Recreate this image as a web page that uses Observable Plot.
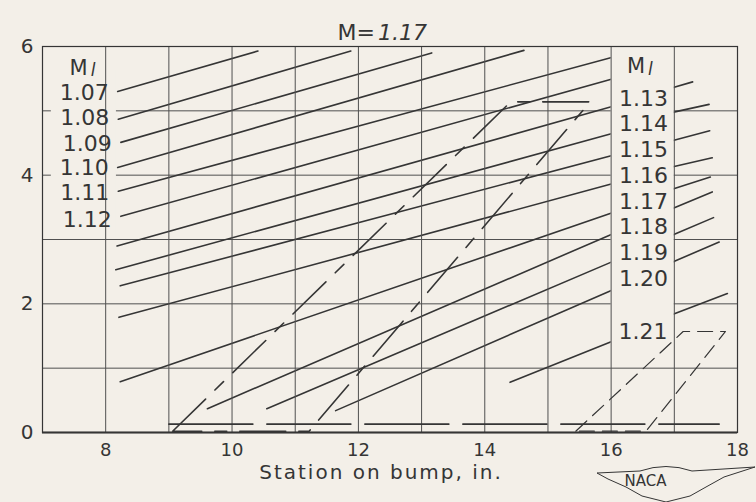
<!DOCTYPE html>
<html>
<head>
<meta charset="utf-8">
<script src="https://cdn.jsdelivr.net/npm/d3@7"></script>
<script src="https://cdn.jsdelivr.net/npm/@observablehq/plot@0.6"></script>
<style>
  html, body { margin: 0; padding: 0; background: #f3efe8; }
  #chart svg { display: block; }
</style>
</head>
<body>
<div id="chart"></div>
<script>
// ---- data ----
const title = "M=";
const titleValue = "1.17";
const xLabel = "Station on bump, in.";
const xTicks = [8, 10, 12, 14, 16, 18];
const yTicks = [0, 2, 4, 6];
const xGrid = [8, 9, 10, 11, 12, 13, 14, 15, 16, 17];
const yGrid = [1, 2, 3, 4, 5];

// local Mach number contours
const mach = ["1.07", "1.08", "1.09", "1.10", "1.11", "1.12",
              "1.13", "1.14", "1.15", "1.16", "1.17", "1.18", "1.19", "1.20", "1.21"];
const contourStation = [
  [8.19, 10.41],
  [8.20, 11.88],
  [8.24, 13.16],
  [8.19, 14.62],
  [8.20, 16.27],
  [8.24, 16.03],
  [8.18, 16.03, 16.97, 17.29],
  [8.16, 16.03, 16.99, 17.55],
  [8.23, 16.03, 16.98, 17.56],
  [8.21, 16.03, 16.98, 17.60],
  [8.23, 16.03, 16.99, 17.57],
  [9.61, 16.03, 17.02, 17.60],
  [10.55, 16.03, 17.02, 17.62],
  [11.64, 16.03, 17.02, 17.71],
  [14.40, 16.02, 16.98, 17.84]
];
const contourHeight = [
  [5.30, 5.93],
  [4.87, 5.93],
  [4.51, 5.90],
  [4.12, 5.94],
  [3.75, 5.90],
  [3.36, 5.50],
  [2.90, 5.07, 5.36, 5.45],
  [2.53, 4.65, 4.98, 5.10],
  [2.28, 4.31, 4.54, 4.69],
  [1.79, 3.87, 4.13, 4.27],
  [0.79, 3.42, 3.79, 3.97],
  [0.37, 3.09, 3.50, 3.74],
  [0.37, 2.66, 3.09, 3.34],
  [0.34, 2.22, 2.67, 2.96],
  [0.78, 1.42, 1.84, 2.16]
];
const leftLabelCount = 6;
// heights at which the Mach labels are lettered
const leftLabelHeight  = [5.28, 4.89, 4.49, 4.11, 3.73, 3.31];
const rightLabelHeight = [5.19, 4.79, 4.39, 3.99, 3.59, 3.19, 2.79, 2.39, 1.57];

// shock / sonic boundaries (dash-dot and dashed outlines)
const shockAStation = [9.06, 14.41, 15.67, 11.22, 9.06];
const shockAHeight  = [0.02, 5.14, 5.14, 0.02, 0.02];
const shockBStation = [15.44, 17.14, 17.81, 16.55, 15.44];
const shockBHeight  = [0.02, 1.57, 1.57, 0.02, 0.02];
// long-dashed line near the surface
const layerStation = [9.0, 17.71];
const layerHeight  = [0.13, 0.13];

// ---- styling ----
const BG = "#f3efe8";
const INK = "#353535";
const GRID = "#505050";
const FONT = "DejaVu Sans, sans-serif";

// label panels (areas kept clear for the Mach labels)
const panels = [
  {x1: 7.14, x2: 8.17, y1: 3.03, y2: 5.63},
  {x1: 16.0, x2: 17.0, y1: 1.30, y2: 6.0}
];

// ---- tables ----
const contourRows = [];
mach.forEach((m, i) => contourStation[i].forEach((x, j) =>
  contourRows.push({m, x, y: contourHeight[i][j]})));
const leftLabels = mach.slice(0, leftLabelCount).map((m, i) =>
  ({m, x: contourStation[i][0], y: leftLabelHeight[i]}));
const rightLabels = mach.slice(leftLabelCount).map((m, k) =>
  ({m, x: contourStation[k + leftLabelCount][1], y: rightLabelHeight[k]}));
const toRows = (xs, ys) => xs.map((x, i) => ({x, y: ys[i]}));

const plot = Plot.plot({
  width: 756,
  height: 502,
  marginLeft: 42,
  marginRight: 19,
  marginTop: 46,
  marginBottom: 70,
  style: {background: BG, fontFamily: FONT, color: INK},
  x: {domain: [7, 18]},
  y: {domain: [0, 6]},
  marks: [
    Plot.ruleY(yGrid, {stroke: GRID, strokeWidth: 1}),
    Plot.line(contourRows, {x: "x", y: "y", z: "m", stroke: INK, strokeWidth: 1.6, curve: "linear"}),
    Plot.rect(panels, {x1: "x1", x2: "x2", y1: "y1", y2: "y2", fill: BG}),
    Plot.ruleX(xGrid, {stroke: GRID, strokeWidth: 1}),
    Plot.line(toRows(shockAStation, shockAHeight), {x: "x", y: "y", stroke: INK, strokeWidth: 1.6, strokeDasharray: "46,13,12,13"}),
    Plot.line(toRows(shockBStation, shockBHeight), {x: "x", y: "y", stroke: INK, strokeWidth: 1.2, strokeDasharray: "15,8"}),
    Plot.line(toRows(layerStation, layerHeight), {x: "x", y: "y", stroke: INK, strokeWidth: 1.6, strokeDasharray: "84,14"}),
    Plot.frame({stroke: INK, strokeWidth: 1.2}),
    Plot.ruleY([0], {stroke: INK, strokeWidth: 2}),
    Plot.axisX({ticks: xTicks, tickSize: 0, tickPadding: 11, fontSize: 18, label: null, tickFormat: d => String(d)}),
    Plot.axisY({ticks: yTicks, tickSize: 0, tickPadding: 9, fontSize: 20, label: null, tickFormat: d => String(d)}),
    // Mach labels
    Plot.text(leftLabels, {x: "x", y: "y", text: "m", textAnchor: "end", dx: -9, fontSize: 22, fill: INK}),
    Plot.text(rightLabels, {x: "x", y: "y", text: "m", textAnchor: "start", dx: 6, fontSize: 22, fill: INK}),
    Plot.text([leftLabels[0]], {x: "x", y: "y", text: () => "M", textAnchor: "end", dx: -30, dy: -25, fontSize: 21, fill: INK}),
    Plot.text([leftLabels[0]], {x: "x", y: "y", text: () => "l", textAnchor: "start", dx: -27, dy: -22, fontSize: 17, fontStyle: "italic", fill: INK}),
    Plot.text([rightLabels[0]], {x: "x", y: "y", text: () => "M", textAnchor: "start", dx: 14, dy: -32, fontSize: 21, fill: INK}),
    Plot.text([rightLabels[0]], {x: "x", y: "y", text: () => "l", textAnchor: "start", dx: 35, dy: -29, fontSize: 17, fontStyle: "italic", fill: INK}),
    // title
    Plot.text([title], {frameAnchor: "top", text: d => d, textAnchor: "end", dx: -15, dy: -22, fontSize: 22, fill: INK}),
    Plot.text([titleValue], {frameAnchor: "top", text: d => d, textAnchor: "start", dx: -12, dy: -22, fontSize: 22, fontStyle: "italic", fill: INK}),
    // x label
    Plot.text([xLabel], {frameAnchor: "bottom", text: d => d, dx: -9, dy: 46, fontSize: 20, fill: INK}),
    // emblem lettering
    Plot.text(["NACA"], {frameAnchor: "bottom-right", text: d => d, dx: -71, dy: 53, fontSize: 15, fill: INK})
  ]
});

document.getElementById("chart").appendChild(plot);

// letter spacing for the axis title, emblem wings
const svg = d3.select(plot);
svg.selectAll("text").filter(function () { return this.textContent === xLabel; })
  .style("letter-spacing", "2px");
svg.append("path")
  .attr("d", "M597,473 L640,471 Q666,462 692,471 L755,467 L724,477 L706,487 L690,496 L666,502 L642,496 L626,487 L608,479 Z")
  .attr("fill", "none").attr("stroke", INK).attr("stroke-width", 1);
</script>
</body>
</html>
